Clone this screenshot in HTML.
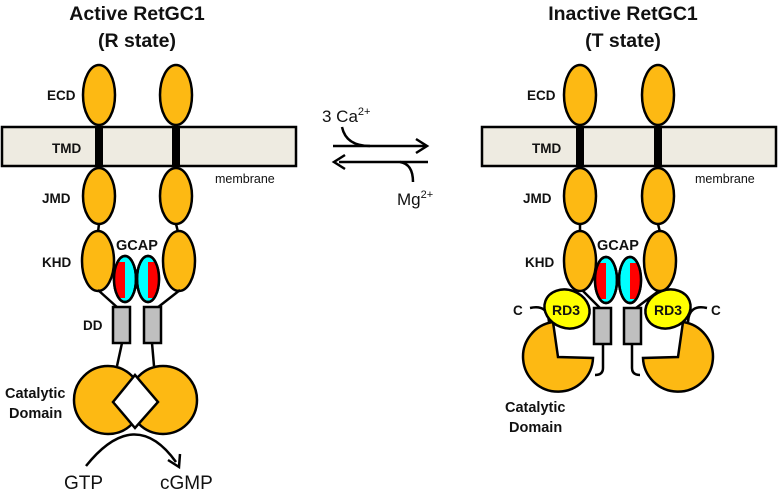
<!DOCTYPE html>
<html><head><meta charset="utf-8"><style>
html,body{margin:0;padding:0;background:#fff;}
svg{display:block;}
text{font-family:"Liberation Sans",sans-serif;}
.b{font-weight:bold;font-size:13.5px;fill:#111;}
.t{font-weight:bold;font-size:19.5px;fill:#111;text-anchor:middle;}
</style></head><body>
<svg width="778" height="494" viewBox="0 0 778 494" xmlns="http://www.w3.org/2000/svg">
<defs>
<clipPath id="g1"><ellipse cx="125" cy="279" rx="11" ry="23"/></clipPath>
<clipPath id="g2"><ellipse cx="148" cy="279" rx="11" ry="23"/></clipPath>
<clipPath id="g3"><ellipse cx="606" cy="280" rx="11" ry="23"/></clipPath>
<clipPath id="g4"><ellipse cx="630" cy="280" rx="11" ry="23"/></clipPath>
</defs>
<g stroke="#000" stroke-width="2.5">
<!-- LEFT PANEL -->
<text x="137" y="20" class="t" stroke="none">Active RetGC1</text>
<text x="137" y="47" class="t" stroke="none">(R state)</text>
<ellipse cx="99" cy="95" rx="16" ry="30" fill="#FDB913"/>
<ellipse cx="176" cy="95" rx="16" ry="30" fill="#FDB913"/>
<rect x="2" y="127" width="294" height="39" fill="#EEEBE1"/>
<rect x="95" y="127" width="8" height="39" fill="#000" stroke="none"/>
<rect x="172" y="127" width="8" height="39" fill="#000" stroke="none"/>
<ellipse cx="99" cy="196" rx="16" ry="28" fill="#FDB913"/>
<ellipse cx="176" cy="196" rx="16" ry="28" fill="#FDB913"/>
<line x1="99" y1="224" x2="98" y2="232"/><line x1="176" y1="224" x2="178" y2="232"/>
<ellipse cx="98" cy="261" rx="16" ry="30" fill="#FDB913"/>
<ellipse cx="179" cy="261" rx="16" ry="30" fill="#FDB913"/>
<line x1="98" y1="290" x2="118" y2="308"/><line x1="180" y1="290" x2="157" y2="308"/>
<ellipse cx="125" cy="279" rx="11" ry="23" fill="#00FFFF"/>
<rect x="115" y="262" width="10" height="36" fill="#F00" stroke="none" clip-path="url(#g1)"/>
<ellipse cx="125" cy="279" rx="11" ry="23" fill="none"/>
<ellipse cx="148" cy="279" rx="11" ry="23" fill="#00FFFF"/>
<rect x="148" y="262" width="10" height="36" fill="#F00" stroke="none" clip-path="url(#g2)"/>
<ellipse cx="148" cy="279" rx="11" ry="23" fill="none"/>
<rect x="113" y="307" width="17" height="36" fill="#BFBFBF"/>
<rect x="144" y="307" width="17" height="36" fill="#BFBFBF"/>
<line x1="122" y1="343" x2="117" y2="366"/><line x1="152" y1="343" x2="154" y2="366"/>
<circle cx="108" cy="400" r="34" fill="#FDB913"/>
<circle cx="163" cy="400" r="34" fill="#FDB913"/>
<path d="M113 402 L135 375 L158 402 L135 428 Z" fill="#fff"/>
<path d="M86 466 Q135 405 176 462" fill="none"/>
<path d="M168 460 L179 467 L180 454" fill="none"/>
<!-- CENTER -->
<line x1="333" y1="146" x2="426" y2="146"/>
<path d="M416 139 L427 146 L416 153" fill="none"/>
<path d="M342 127 Q346 146 370 146" fill="none"/>
<line x1="339" y1="162" x2="428" y2="162"/>
<path d="M345 155 L334 162 L345 169" fill="none"/>
<path d="M400 162 Q413 164 413 182" fill="none"/>
<!-- RIGHT PANEL -->
<text x="623" y="20" class="t" stroke="none">Inactive RetGC1</text>
<text x="623" y="47" class="t" stroke="none">(T state)</text>
<ellipse cx="580" cy="95" rx="16" ry="30" fill="#FDB913"/>
<ellipse cx="658" cy="95" rx="16" ry="30" fill="#FDB913"/>
<rect x="482" y="127" width="294" height="39" fill="#EEEBE1"/>
<rect x="576" y="127" width="8" height="39" fill="#000" stroke="none"/>
<rect x="654" y="127" width="8" height="39" fill="#000" stroke="none"/>
<ellipse cx="580" cy="196" rx="16" ry="28" fill="#FDB913"/>
<ellipse cx="658" cy="196" rx="16" ry="28" fill="#FDB913"/>
<line x1="580" y1="224" x2="580" y2="232"/><line x1="658" y1="224" x2="660" y2="232"/>
<line x1="582" y1="290" x2="600" y2="308"/><line x1="660" y1="290" x2="636" y2="308"/>
<ellipse cx="580" cy="261" rx="16" ry="30" fill="#FDB913"/>
<ellipse cx="660" cy="261" rx="16" ry="30" fill="#FDB913"/>
<ellipse cx="606" cy="280" rx="11" ry="23" fill="#00FFFF"/>
<rect x="596" y="263" width="10" height="36" fill="#F00" stroke="none" clip-path="url(#g3)"/>
<ellipse cx="606" cy="280" rx="11" ry="23" fill="none"/>
<ellipse cx="630" cy="280" rx="11" ry="23" fill="#00FFFF"/>
<rect x="630" y="263" width="10" height="36" fill="#F00" stroke="none" clip-path="url(#g4)"/>
<ellipse cx="630" cy="280" rx="11" ry="23" fill="none"/>
<rect x="594" y="308" width="17" height="36" fill="#BFBFBF"/>
<rect x="624" y="308" width="17" height="36" fill="#BFBFBF"/>
<path d="M603 344 L603 368 Q603 375 595 375" fill="none"/>
<path d="M632 344 L632 368 Q632 375 640 375" fill="none"/>
<path d="M530 308 Q548 304 549 322" fill="none"/>
<path d="M707 308 Q689 304 688 322" fill="none"/>
<path d="M553 322 A35 35 0 1 0 593 358 L558 357 Z" fill="#FDB913"/>
<path d="M683 322 A35 35 0 1 1 643 358 L678 357 Z" fill="#FDB913"/>
<ellipse cx="567" cy="309" rx="23" ry="19" transform="rotate(20 567 309)" fill="#FFFF00"/>
<ellipse cx="668" cy="309" rx="23" ry="19" transform="rotate(-20 668 309)" fill="#FFFF00"/>
</g>
<g stroke="none">
<text x="47" y="100" class="b">ECD</text>
<text x="52" y="153" class="b">TMD</text>
<text x="42" y="203" class="b">JMD</text>
<text x="42" y="267" class="b">KHD</text>
<text x="116" y="250" class="b" style="font-size:14.5px">GCAP</text>
<text x="83" y="330" class="b">DD</text>
<text x="5" y="398" class="b" style="font-size:14.5px">Catalytic</text>
<text x="9" y="418" class="b" style="font-size:14.5px">Domain</text>
<text x="215" y="183" style="font-size:12.5px" fill="#111">membrane</text>
<text x="64" y="489" style="font-size:19px" fill="#111">GTP</text>
<text x="160" y="489" style="font-size:19px" fill="#111">cGMP</text>
<text x="322" y="122" style="font-size:17px" fill="#111">3 Ca<tspan dy="-7" style="font-size:11px">2+</tspan></text>
<text x="397" y="205" style="font-size:17px" fill="#111">Mg<tspan dy="-7" style="font-size:11px">2+</tspan></text>
<text x="527" y="100" class="b">ECD</text>
<text x="532" y="153" class="b">TMD</text>
<text x="523" y="203" class="b">JMD</text>
<text x="525" y="267" class="b">KHD</text>
<text x="597" y="250" class="b" style="font-size:14.5px">GCAP</text>
<text x="552" y="315" class="b" style="font-size:14px">RD3</text>
<text x="654" y="315" class="b" style="font-size:14px">RD3</text>
<text x="513" y="315" class="b">C</text>
<text x="711" y="315" class="b">C</text>
<text x="505" y="412" class="b" style="font-size:14.5px">Catalytic</text>
<text x="509" y="432" class="b" style="font-size:14.5px">Domain</text>
<text x="695" y="183" style="font-size:12.5px" fill="#111">membrane</text>
</g>
</svg>
</body></html>
